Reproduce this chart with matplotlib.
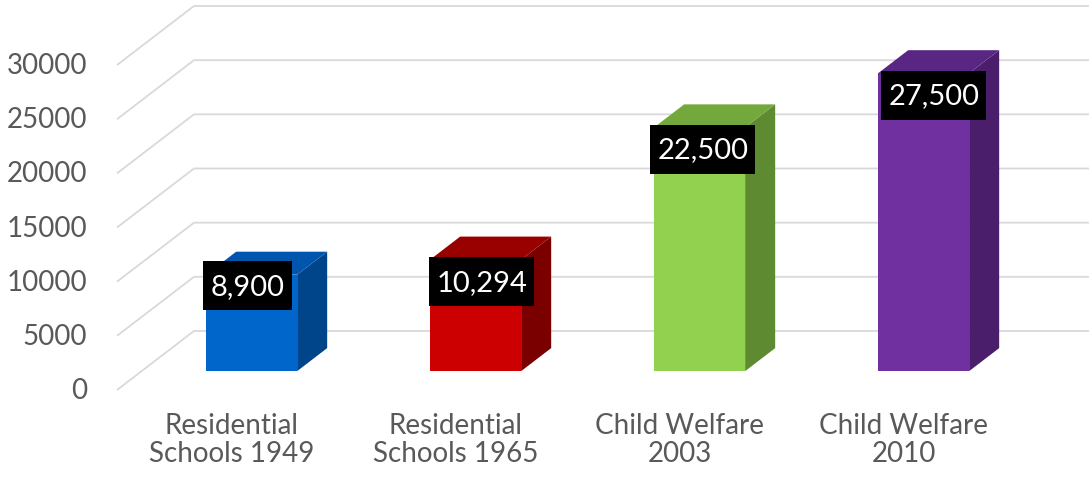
import matplotlib
matplotlib.use("Agg")
import matplotlib.pyplot as plt
from matplotlib.patches import Polygon

# ---- data ----
categories = ["Residential\nSchools 1949", "Residential\nSchools 1965",
              "Child Welfare\n2003", "Child Welfare\n2010"]
values = [8900, 10294, 22500, 27500]
value_labels = ["8,900", "10,294", "22,500", "27,500"]
yticks = [0, 5000, 10000, 15000, 20000, 25000, 30000]

front_colors = ["#0066CC", "#CC0000", "#92D050", "#7030A0"]
top_colors = ["#0056AD", "#990000", "#72A83C", "#5A2683"]
side_colors = ["#00448A", "#7A0000", "#5E8A32", "#4A1E6A"]

# ---- layout (pseudo-3D geometry) ----
W, H = 1089, 485
PX_C = 224.0                 # pixels per category
X0_PX = 227.0                # pixel x of category 0 (front)
K = 30000 / 325.0            # value units per pixel
Y0_PX = 391.0                # pixel y of value 0 (front)
DX = 77 / PX_C               # depth shift in category units
DY = 59 * K                  # depth shift in value units
D0, D1 = 0.32, 0.71          # bar front/back depth
BW = 91 / PX_C               # bar width
LEFT = (117 - X0_PX) / PX_C
label_dx_px = [-4, 6, 3, 10]
label_dy_px = [-11, -22, -22, -22]

plt.rcParams['font.family'] = ['Lato', 'DejaVu Sans']
fig = plt.figure(figsize=(W / 100, H / 100), dpi=100)
ax = fig.add_axes([0, 0, 1, 1])
ax.set_xlim(-X0_PX / PX_C, (W - X0_PX) / PX_C)
ax.set_ylim(-(H - Y0_PX) * K, Y0_PX * K)
ax.axis("off")

# gridlines: side wall diagonal + back wall horizontal
right = (W - X0_PX) / PX_C + 0.1
for t in yticks:
    ax.plot([LEFT, LEFT + DX, right], [t, t + DY, t + DY],
            color="#D9D9D9", lw=1.3, solid_capstyle="butt", zorder=1)
    ax.text((87 - X0_PX) / PX_C, t, str(t), ha="right", va="center",
            fontsize=20, color="#595959")

# bars
for i, v in enumerate(values):
    xc = i + D0 * DX
    xl, xr = xc - BW / 2, xc + BW / 2
    ddx = (D1 - D0) * DX
    yb0, yb1 = D0 * DY, D1 * DY
    front = Polygon([(xl, yb0), (xr, yb0), (xr, v + yb0), (xl, v + yb0)],
                    closed=True, fc=front_colors[i], ec="none", zorder=3)
    side = Polygon([(xr, yb0), (xr + ddx, yb1), (xr + ddx, v + yb1), (xr, v + yb0)],
                   closed=True, fc=side_colors[i], ec="none", zorder=3)
    top = Polygon([(xl, v + yb0), (xr, v + yb0), (xr + ddx, v + yb1), (xl + ddx, v + yb1)],
                  closed=True, fc=top_colors[i], ec="none", zorder=3)
    for p in (side, top, front):
        ax.add_patch(p)
    ax.annotate(value_labels[i], xy=(xc, v + yb0),
                xytext=(label_dx_px[i] * 0.72, label_dy_px[i] * 0.72),
                textcoords="offset points", ha="center", va="center",
                fontsize=21, color="white", zorder=5,
                bbox=dict(boxstyle="square,pad=0.25", mutation_aspect=1.6,
                          fc="black", ec="none"))

# category labels
for i, c in enumerate(categories):
    ax.text(i + 0.02, -(440 - Y0_PX) * K, c, ha="center", va="center",
            fontsize=20, color="#595959", linespacing=1.05)

fig.savefig("out.png", dpi=100)
